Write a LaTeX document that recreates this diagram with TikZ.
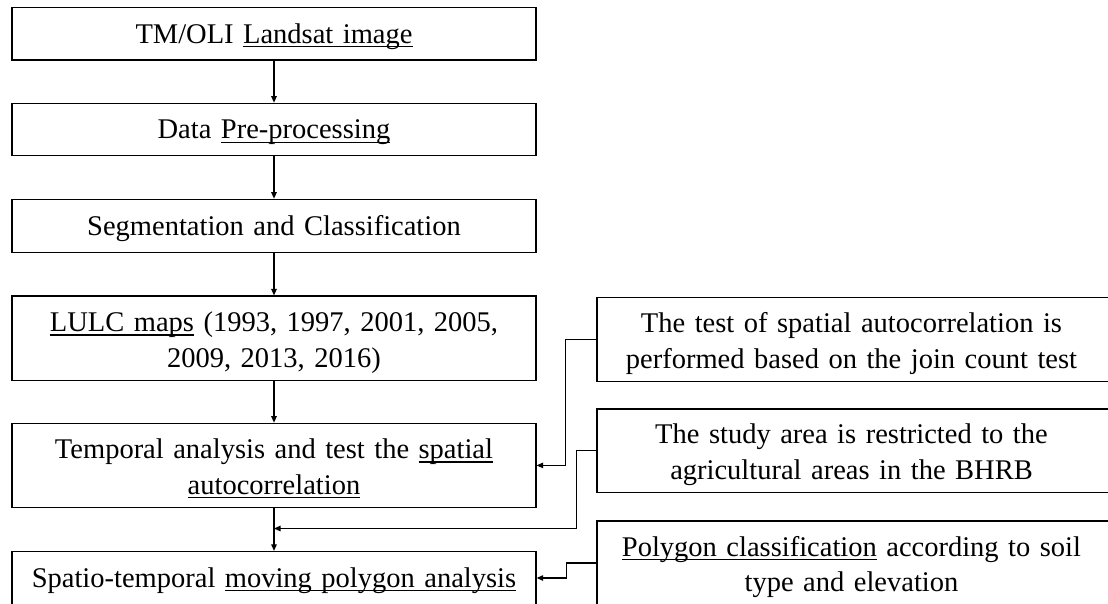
\documentclass[tikz,border=0pt]{standalone}
\usepackage{fontspec}
\setmainfont{Liberation Serif}
\newsavebox{\ulbox}
\newcommand{\ulx}[1]{\leavevmode\sbox{\ulbox}{#1}\rlap{\rule[-4pt]{\wd\ulbox}{1.2pt}}\usebox{\ulbox}}
\newcommand{\shl}{\hspace*{-51pt}}
\usetikzlibrary{arrows.meta}
\tikzset{
  box/.style={draw, line width=1.3pt, inner sep=0pt, align=center, text height=18.9pt},
  lbox/.style={box, minimum width=524pt, text width=520pt},
  rbox/.style={box, minimum width=560pt, text width=556pt},
  oneline/.style={text depth=0pt},
  twoline/.style={text depth=32.7pt},
  arr/.style={line width=1.1pt, -{Triangle[length=6.5pt,width=5.5pt]}}
}
\begin{document}
\begin{tikzpicture}[x=1pt, y=-1pt, font=\fontsize{28.5}{35.5}\selectfont]
\useasboundingbox (0,0) rectangle (1108,603);
\clip (0,0) rectangle (1108,603);
% main column
\node[lbox, oneline, minimum height=52.7pt] (b1) at (274,33.7) {TM/OLI \ulx{Landsat image}};
\node[lbox, oneline, minimum height=52.4pt] (b2) at (274,129.5) {Data \ulx{Pre-processing}};
\node[lbox, oneline, minimum height=53pt] (b3) at (274,225.8) {Segmentation and Classification};
\node[lbox, twoline, minimum height=84.7pt] (b4) at (274,338.4) {\ulx{LULC maps} (1993, 1997, 2001, 2005,\\2009, 2013, 2016)};
\node[lbox, twoline, minimum height=84.2pt] (b5) at (274,465.4) {Temporal analysis and test the \ulx{spatial}\\\ulx{autocorrelation}};
\node[lbox, oneline, minimum height=53pt] (b6) at (274,578) {Spatio-temporal \ulx{moving polygon analysis}};
% side column (right edges run off the picture)
\node[rbox, twoline, minimum height=84pt] (ra) at (877,339.7) {\shl The test of spatial autocorrelation is\\\shl performed based on the join count test};
\node[rbox, twoline, minimum height=83.3pt] (rb) at (877,450.7) {\shl The study area is restricted to the\\\shl agricultural areas in the BHRB};
\node[rbox, twoline, minimum height=84pt] (rc) at (877,563) {\shl\ulx{Polygon classification} according to soil\\\shl type and elevation};
% vertical flow
\draw[arr] (b1.south) -- (b2.north);
\draw[arr] (b2.south) -- (b3.north);
\draw[arr] (b3.south) -- (b4.north);
\draw[arr] (b4.south) -- (b5.north);
\draw[arr] (b5.south) -- (b6.north);
% side connectors
\coordinate (j1) at (274,528.5);
\draw[arr] (ra.west) -- ++(-31,0) |- (b5.east);
\draw[arr] (rb.west) -- ++(-20,0) |- (j1);
\draw[arr] (rc.west) -- ++(-30,0) |- (b6.east);
\end{tikzpicture}
\end{document}
